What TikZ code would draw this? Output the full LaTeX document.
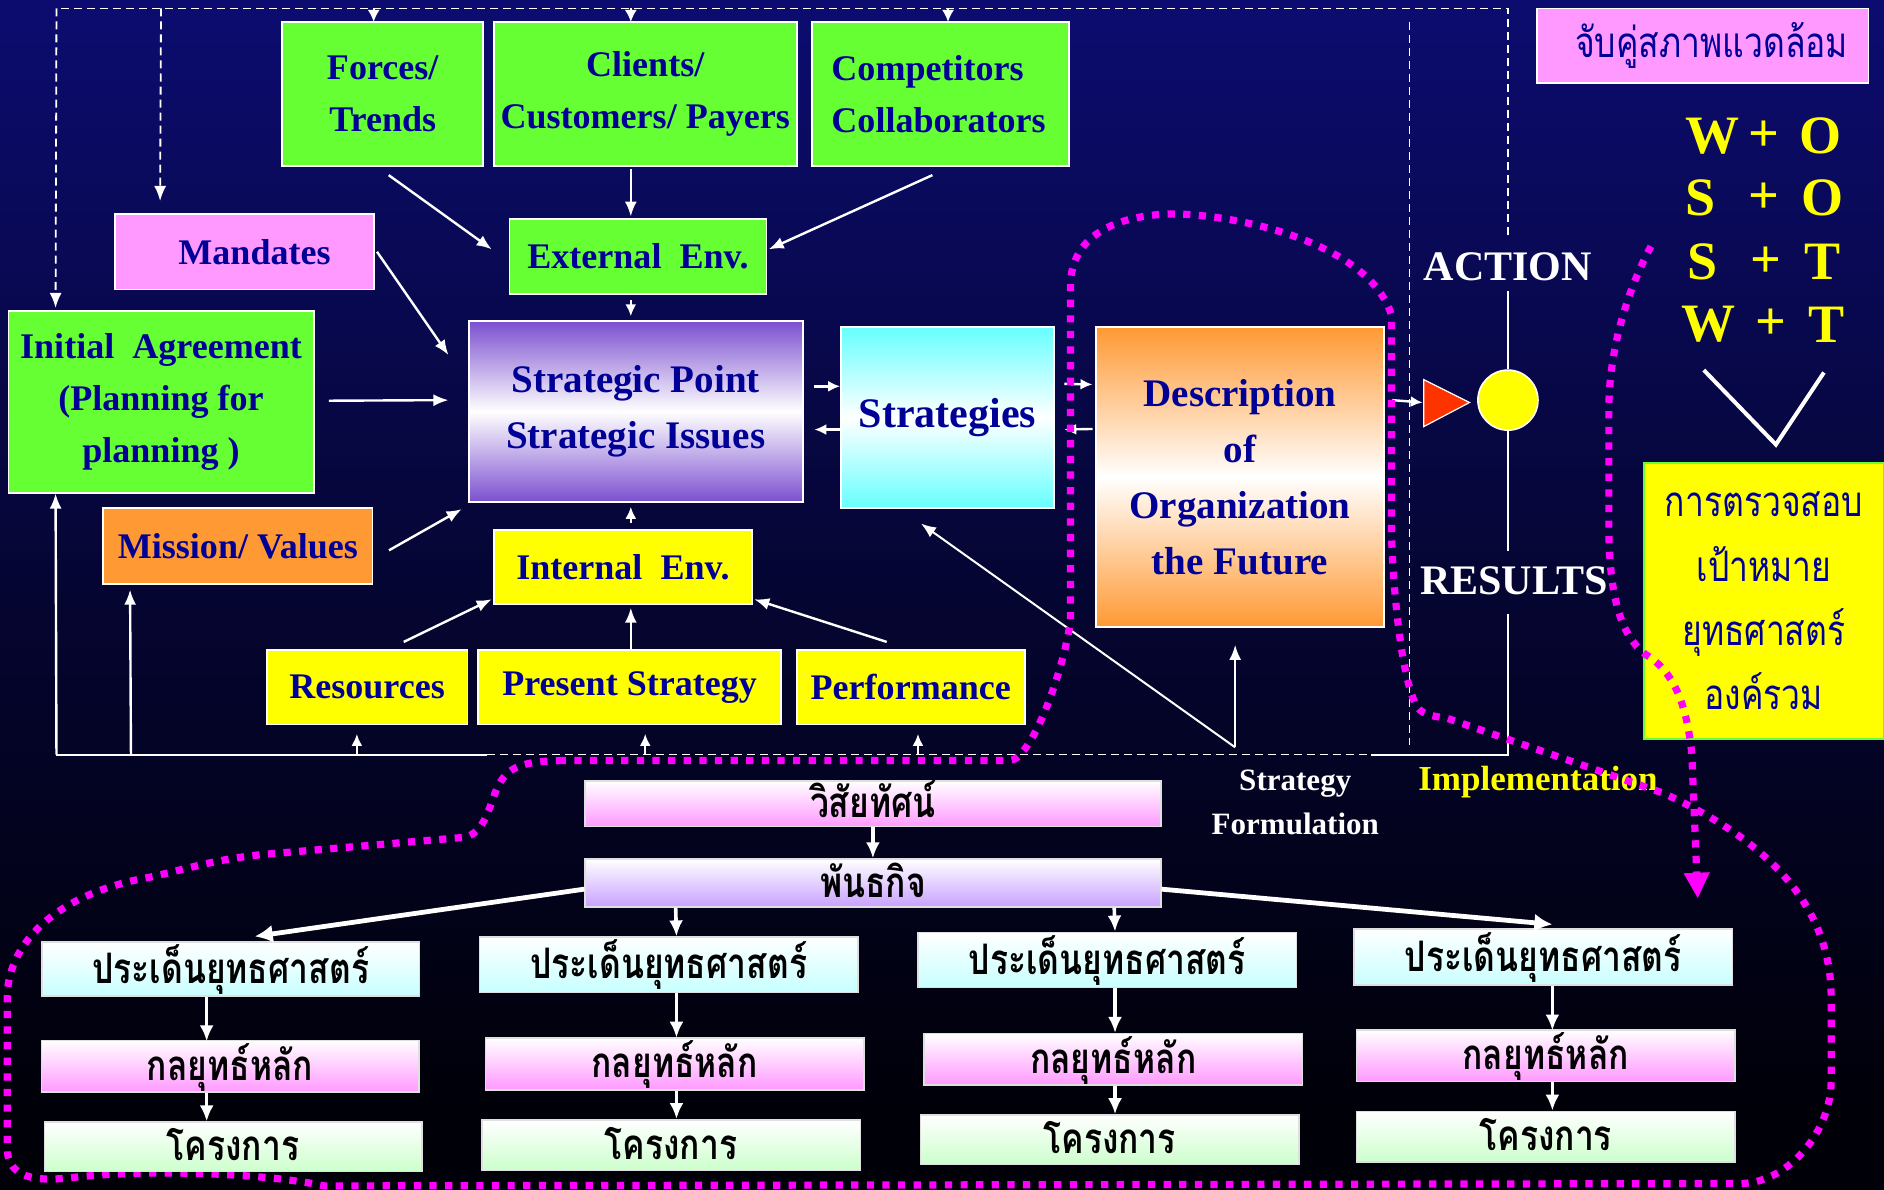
\documentclass[tikz,border=0pt]{standalone}
\usepackage{fontspec}
\setmainfont{Liberation Serif}
\newfontfamily\thai[Script=Thai,FakeStretch=0.8]{Loma}
\usetikzlibrary{arrows.meta,calc}
\definecolor{navytxt}{RGB}{0,0,150}
\definecolor{gr}{RGB}{102,255,51}
\definecolor{pk}{RGB}{255,153,255}
\definecolor{orng}{RGB}{255,153,51}
\definecolor{yl}{RGB}{255,255,0}
\definecolor{purp}{RGB}{123,79,208}
\definecolor{cyn}{RGB}{102,255,255}
\definecolor{lav}{RGB}{200,160,255}
\definecolor{lcy}{RGB}{200,255,255}
\definecolor{lgr}{RGB}{204,255,204}
\definecolor{mag}{RGB}{255,0,255}
\definecolor{redtri}{RGB}{255,51,0}
\definecolor{bgA}{RGB}{26,28,185}
\definecolor{bgB}{RGB}{12,12,112}
\definecolor{bgC}{RGB}{5,5,50}
\definecolor{bgD}{RGB}{0,0,8}
\pgfdeclareverticalshading{bgshade}{100bp}{color(0bp)=(bgD); color(28bp)=(bgD); color(50bp)=(bgC); color(75bp)=(bgB); color(100bp)=(bgA)}
\tikzset{
  box/.style={draw=white, line width=0.9pt, inner sep=0pt, align=center, text=navytxt,
    font=\fontsize{18pt}{26pt}\selectfont\bfseries},
  sz/.style 2 args={minimum width=#1*0.6pt, minimum height=#2*0.6pt},
  tbox/.style={draw=white!75!gray, line width=0.8pt, inner sep=0pt, align=center, text=black,
    text height=16pt, text depth=2pt,
    font=\thai\fontsize{21pt}{24pt}\selectfont\bfseries},
  arr/.style={draw=white, line width=1.2pt, -{Latex[length=7.5pt,width=6pt]}},
  sarr/.style={draw=white, line width=1.2pt, -{Latex[length=6pt,width=5.5pt]}},
  tarr/.style={draw=white, line width=2.4pt, -{Latex[length=9pt,width=9pt]}},
  darr/.style={draw=white, line width=1.8pt, -{Latex[length=8pt,width=7pt]}},
  dsh/.style={draw=white, line width=0.9pt, dash pattern=on 4pt off 2.5pt},
  sol/.style={draw=white, line width=1pt},
  dotm/.style={draw=mag, line width=3.6pt, dash pattern=on 3.6pt off 4.2pt},
  lbl/.style={inner sep=0pt, text=white, font=\fontsize{21pt}{26pt}\selectfont\bfseries},
  swot/.style={inner sep=0pt, text=yl, font=\fontsize{27pt}{30pt}\selectfont\bfseries},
}
\begin{document}
\begin{tikzpicture}[x=0.6pt,y=-0.6pt]
\clip (0,0) rectangle (1568,990);
\shade[shading=bgshade] (0,0) rectangle (1568,990);

% ---------- top boxes ----------
\node[box, fill=gr, sz={167}{120}] (forces) at (318.5,78) {Forces/\\Trends};
\node[box, fill=gr, sz={252}{120}] (clients) at (537,78) {Clients/\\Customers/ Payers};
\node[box, fill=gr, sz={214}{120}, align=left, text width=182*0.6pt, inner xsep=16*0.6pt] (comp) at (783,78) {Competitors\\Collaborators};
\node[box, fill=pk, sz={215}{63}] (mand) at (203.5,209.5) {\hspace*{10pt}Mandates};
\node[box, fill=gr, sz={214}{63}] (ext) at (531,213.5) {External~~Env.};
\node[box, fill=gr, sz={254}{151}] (init) at (134,334.5) {Initial~~Agreement\\(Planning for\\planning )};
\node[box, sz={278}{151}, top color=purp, bottom color=purp, middle color=white, font=\fontsize{19.5pt}{28pt}\selectfont\bfseries] (sp) at (529,342.5) {Strategic Point\\Strategic Issues};
\node[box, sz={177}{151}, top color=cyn, bottom color=cyn, middle color=white, font=\fontsize{21pt}{26pt}\selectfont\bfseries] (strat) at (788.5,347.5) {Strategies};
\node[box, sz={240}{250}, top color=orng, bottom color=orng, middle color=white, font=\fontsize{19.5pt}{28pt}\selectfont\bfseries] (desc) at (1032,397) {Description\\of\\Organization\\the Future};
\node[box, fill=orng, sz={224}{63}] (miss) at (198,454.5) {Mission/ Values};
\node[box, fill=yl, sz={215}{62}] (int) at (518.5,472) {Internal~~Env.};
\node[box, fill=yl, sz={167}{62}] (res) at (305.5,572) {Resources};
\node[box, fill=yl, sz={252}{62}] (pres) at (524,572) {Present Strategy};
\node[box, fill=yl, sz={190}{62}] (perf) at (758,572) {Performance};

% ---------- right side ----------
\node[box, fill=pk, sz={276}{62}, font=\thai\fontsize{21pt}{24pt}\selectfont] (match) at (1417,38) {\hspace*{9pt}จับคู่สภาพแวดล้อม};
\foreach \r/\yy/\la/\xa/\xp/\lb/\xb in {1/113/W/1425/1468/O/1515, 2/165/S/1415/1468/O/1517, 3/218/S/1417/1470/T/1517, 4/270/W/1422/1474/T/1520}{
  \node[swot] (sw\r a) at (\xa,\yy) {\la};
  \node[swot] (sw\r p) at (\xp,\yy) {+};
  \node[swot] (sw\r b) at (\xb,\yy) {\lb};
}
\draw[white, line width=2pt] (1418,308) -- (1478,370) -- (1518,310);
\node[box, draw=gr, fill=yl, sz={200}{230}, font=\thai\fontsize{21pt}{32pt}\selectfont] (goal) at (1468,500) {การตรวจสอบ\\เป้าหมาย\\ยุทธศาสตร์\\องค์รวม};

\node[lbl] (action) at (1255,222) {ACTION};
\node[lbl] (results) at (1260,483) {RESULTS};
\node[circle, fill=yl, draw=white, line width=0.8pt, minimum size=50*0.6pt, inner sep=0pt] (circ) at (1255,333) {};
\draw[white, line width=0.6pt, fill=redtri] (1185,316) -- (1223,335) -- (1185,355) -- cycle;
\coordinate (tri) at (1184,335);

\node[inner sep=0pt, align=center, text=white, font=\fontsize{15.5pt}{22pt}\selectfont\bfseries] (sf) at (1078,668) {Strategy\\Formulation};
\node[inner sep=0pt, text=yl, font=\fontsize{17.5pt}{22pt}\selectfont\bfseries] (impl) at (1280,651) {Implementation};

% ---------- frame lines ----------
\coordinate (tl) at (47,7);
\coordinate (tr) at (1255,7);
\coordinate (bl) at (47,628);
\coordinate (bm) at (405,628);
\coordinate (bs) at (1141,628);
\coordinate (br) at (1255,628);
\coordinate (fp) at (1028,622);
\draw[dsh] ($(action.north)+(0,-14)$) -- (tr) -- (tl);
\draw[dsh, -{Latex[length=7.5pt,width=6pt]}] (tl) -- ($(init.north west)+(40,-2)$);
\draw[dsh, -{Latex[length=7.5pt,width=6pt]}] (134,7) -- ($(mand.north west)+(38,-10)$);
\draw[dsh, -{Latex[length=6pt,width=6pt]}] (311,7) -- ($(forces.north)+(-7.5,1)$);
\draw[dsh, -{Latex[length=6pt,width=6pt]}] (525,7) -- ($(clients.north)+(-12,1)$);
\draw[dsh, -{Latex[length=6pt,width=6pt]}] (789,7) -- ($(comp.north)+(6,1)$);
\draw[dsh] (1173,18) -- (1173,620);
\draw[sol] ($(action.south)+(0,8)$) -- (circ.north);
\draw[sol] (circ.south) -- ($(results.north)+(-5,-12)$);
\draw[sol] ($(results.south)+(-5,16)$) -- (br) -- (bs);
\draw[sol] (bm) -- (bl);
\draw[dsh] (bm) -- (bs);
\draw[arr] (bl) -- ($(init.south west)+(40,0)$);
\draw[arr] (109,628) -- ($(miss.south west)+(23,4)$);
\draw[sarr] (297,628) -- ($(res.south)+(-8.5,7)$);
\draw[sarr] (537,628) -- ($(pres.south)+(13,7)$);
\draw[sarr] (764,628) -- ($(perf.south)+(6,7)$);

% ---------- arrows ----------
\draw[arr] ($(forces.south)+(5,7)$) -- ($(ext.west)+(-14,-6)$);
\draw[arr] ($(clients.south)+(-12,2)$) -- ($(ext.north)+(-6,-1)$);
\draw[arr] ($(comp.south)+(-7,7)$) -- ($(ext.east)+(1,-6)$);
\draw[sarr] ($(ext.south)+(-6,4)$) -- ($(sp.north)+(-4,-3)$);
\draw[arr] ($(mand.east)+(2,0)$) -- ($(sp.west)+(-16,-47)$);
\draw[arr] ($(init.east)+(12,-1)$) -- ($(sp.west)+(-16,-9.5)$);
\draw[arr] ($(miss.east)+(13,3.5)$) -- ($(sp.south west)+(-5,5)$);
\draw[sarr] ($(int.north)+(6.5,-5)$) -- ($(sp.south)+(-4,3)$);
\draw[arr] ($(res.north)+(30.5,-6)$) -- ($(int.south west)+(-1,-5)$);
\draw[arr] ($(pres.north)+(1,0)$) -- ($(int.south)+(6.5,2)$);
\draw[arr] ($(perf.north)+(-20,-6)$) -- ($(int.south east)+(1,-5)$);
\draw[sarr] ($(sp.east)+(9,-21)$) -- ($(strat.west)+(0,-26)$);
\draw[sarr] ($(strat.west)+(0,10)$) -- ($(sp.east)+(9,15)$);
\draw[sarr] ($(strat.east)+(8,-28)$) -- ($(desc.west)+(-2,-77)$);
\draw[sarr] ($(desc.west)+(-2,-40)$) -- ($(strat.east)+(8,10)$);
\draw[sarr] ($(desc.east)+(6,-64)$) -- (tri);
\draw[arr, line width=1pt] (fp) -- ($(desc.south)+(-4,14)$);
\draw[arr, line width=1pt] (fp) -- ($(strat.south)+(-22,12)$);

% ---------- magenta dotted regions ----------
\draw[dotm] (465,633) -- (840,633) .. controls (858,633) and (885,560) .. (891,516)
  -- (891,235) .. controls (893,190) and (940,178) .. (979,178)
  .. controls (1040,180) and (1140,205) .. (1158,262)
  -- (1158,444) .. controls (1160,500) and (1167,565) .. (1179,588)
  .. controls (1185,596) and (1195,596) .. (1205,598)
  -- (1384,660) .. controls (1450,690) and (1524,740) .. (1524,830)
  -- (1524,900) .. controls (1524,940) and (1490,984) .. (1449,985)
  -- (270,987) .. controls (220,976) and (120,973) .. (60,980)
  .. controls (20,985) and (6,975) .. (6,955)
  -- (6,830) .. controls (6,790) and (40,745) .. (125,730)
  .. controls (160,722) and (180,715) .. (220,711)
  -- (385,697) .. controls (400,695) and (405,680) .. (412,660)
  .. controls (420,640) and (430,634) .. (465,633);
\draw[dotm, -{Triangle[length=13pt,width=12pt]}] (1374,205) .. controls (1350,250) and (1339,300) .. (1339,340)
  -- (1339,444) .. controls (1340,500) and (1350,530) .. (1370,545)
  .. controls (1395,560) and (1404,590) .. (1408,627) -- (1413,748);

% ---------- bottom hierarchy ----------
\node[tbox, sz={479}{38}, top color=white, bottom color=pk] (vis) at (726.5,669) {วิสัยทัศน์};
\node[tbox, sz={479}{40}, top color=white, bottom color=lav] (mis) at (726.5,735) {พันธกิจ};

\node[tbox, sz={314}{45}, top color=white, bottom color=lcy] (a1) at (192,806.5) {ประเด็นยุทธศาสตร์};
\node[tbox, sz={314}{43}, top color=white, bottom color=pk] (b1) at (191.5,887.5) {กลยุทธ์หลัก};
\node[tbox, sz={314}{41}, top color=white, bottom color=lgr] (c1) at (194,954.5) {โครงการ};

\node[tbox, sz={315}{46}, top color=white, bottom color=lcy] (a2) at (556.5,803) {ประเด็นยุทธศาสตร์};
\node[tbox, sz={315}{43}, top color=white, bottom color=pk] (b2) at (561.5,885.5) {กลยุทธ์หลัก};
\node[tbox, sz={315}{42}, top color=white, bottom color=lgr] (c2) at (558.5,953) {โครงการ};

\node[tbox, sz={315}{46}, top color=white, bottom color=lcy] (a3) at (921.5,799) {ประเด็นยุทธศาสตร์};
\node[tbox, sz={315}{43}, top color=white, bottom color=pk] (b3) at (926.5,881.5) {กลยุทธ์หลัก};
\node[tbox, sz={315}{41}, top color=white, bottom color=lgr] (c3) at (923.5,948.5) {โครงการ};

\node[tbox, sz={315}{47}, top color=white, bottom color=lcy] (a4) at (1284.5,796.5) {ประเด็นยุทธศาสตร์};
\node[tbox, sz={315}{43}, top color=white, bottom color=pk] (b4) at (1286.5,878.5) {กลยุทธ์หลัก};
\node[tbox, sz={315}{42}, top color=white, bottom color=lgr] (c4) at (1286.5,946) {โครงการ};

\draw[darr] (vis.south) -- (mis.north);
\draw[tarr] ($(mis.west)+(0,5)$) -- ($(a1.north)+(20,-4)$);
\draw[tarr] ($(mis.east)+(0,5)$) -- ($(a4.north)+(7.5,-3)$);
\draw[darr] ($(mis.south west)+(76,0)$) -- ($(a2.north)+(6.5,0)$);
\draw[darr] ($(mis.south west)+(441,0)$) -- ($(a3.north)+(6.5,0)$);
\foreach \i/\dx in {1/-20,2/6.5,3/6.5,4/7.5}{
  \draw[darr] ($(a\i.south)+(\dx,0)$) -- ($(a\i.south)+(\dx,37)$);
}
\draw[darr] ($(b1.south)+(-19.5,0)$) -- ($(c1.north)+(-22,0)$);
\draw[darr] ($(b2.south)+(1.5,0)$) -- ($(c2.north)+(4.5,0)$);
\draw[darr] ($(b3.south)+(1.5,0)$) -- ($(c3.north)+(4.5,0)$);
\draw[darr] ($(b4.south)+(5.5,0)$) -- ($(c4.north)+(5.5,0)$);
\end{tikzpicture}
\end{document}
